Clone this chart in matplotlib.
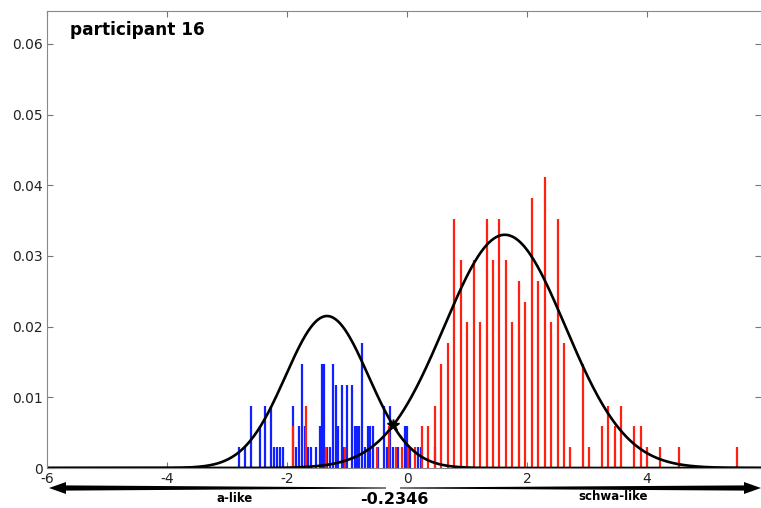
import numpy as np
import matplotlib
matplotlib.use("Agg")
import matplotlib.pyplot as plt
from matplotlib.patches import Polygon

plt.rcParams["axes.unicode_minus"] = False

# histogram counts (normalised by total number of tokens)
n_total = 340

a_x = [-2.795, -2.7, -2.6, -2.458, -2.367, -2.267, -2.217, -2.167, -2.117, -2.072,
       -1.895, -1.842, -1.797, -1.75, -1.705, -1.642, -1.595, -1.512, -1.458, -1.42, -1.38,
       -1.328, -1.283, -1.228, -1.183, -1.142, -1.088, -1.045, -0.995, -0.912, -0.867,
       -0.828, -0.792, -0.75, -0.708, -0.655, -0.613, -0.572, -0.478, -0.378, -0.333,
       -0.283, -0.238, -0.145, -0.037, 0.008, 0.05, 0.183, 0.233, 0.467]
a_count = [1, 1, 3, 2, 3, 3, 1, 1, 1, 1,
           3, 1, 2, 5, 2, 1, 1, 1, 2, 5, 5,
           1, 1, 5, 4, 2, 4, 1, 4, 4, 2,
           2, 2, 6, 1, 2, 2, 2, 1, 3, 1,
           3, 1, 1, 2, 2, 1, 1, 1, 1]

schwa_x = [-1.895, -1.688, -1.35, -1.033, -0.505, -0.295, -0.183, -0.078, 0.022, 0.133,
           0.245, 0.355, 0.467, 0.567, 0.678, 0.783, 0.895, 1.0, 1.112, 1.217,
           1.328, 1.438, 1.538, 1.645, 1.75, 1.862, 1.967, 2.078, 2.183, 2.295,
           2.4, 2.512, 2.617, 2.722, 2.928, 3.033, 3.25, 3.355, 3.462, 3.572,
           3.783, 3.895, 4.0, 4.217, 4.533, 5.505]
schwa_count = [2, 3, 1, 1, 1, 2, 1, 1, 1, 1,
               2, 2, 3, 5, 6, 12, 10, 7, 10, 7,
               12, 10, 12, 10, 7, 9, 8, 13, 9, 14,
               7, 12, 6, 1, 5, 1, 2, 3, 2, 3,
               2, 2, 1, 1, 1, 1]

# fitted normal curves (mean, sd, peak height)
a_mean, a_sd, a_peak = -1.333, 0.69, 0.0215
schwa_mean, schwa_sd, schwa_peak = 1.63, 1.01, 0.033
boundary = -0.2346

xticks = [-6, -4, -2, 0, 2, 4]
yticks = [0, 0.01, 0.02, 0.03, 0.04, 0.05, 0.06]
ytick_labels = ["0", "0.01", "0.02", "0.03", "0.04", "0.05", "0.06"]

W, H = 761, 508
fig = plt.figure(figsize=(W / 100, H / 100), dpi=100)
ax = fig.add_axes([47 / W, 40 / H, 714 / W, 457.3 / H])

ax.vlines(a_x, 0, np.array(a_count) / n_total, color="#1020ff", lw=1.6)
ax.vlines(schwa_x, 0, np.array(schwa_count) / n_total, color="#ff2010", lw=1.6)

xs = np.linspace(-6, 6, 600)
ax.plot(xs, a_peak * np.exp(-0.5 * ((xs - a_mean) / a_sd) ** 2), color="black", lw=1.9)
ax.plot(xs, schwa_peak * np.exp(-0.5 * ((xs - schwa_mean) / schwa_sd) ** 2), color="black", lw=1.9)
by = a_peak * np.exp(-0.5 * ((boundary - a_mean) / a_sd) ** 2)
ax.plot([boundary], [by], marker="*", color="black", ms=9, zorder=5)

ax.set_xlim(-6, 5.9)
ax.set_ylim(0, 0.0647)
ax.set_xticks(xticks)
ax.set_xticklabels([str(t) for t in xticks])
ax.set_yticks(yticks)
ax.set_yticklabels(ytick_labels)
ax.tick_params(direction="in", length=4, color="#777777", labelcolor="#222222",
               labelsize=10, top=True, right=True, pad=3)
for s in ["left", "top", "bottom"]:
    ax.spines[s].set_color("#888888")
ax.spines["right"].set_visible(False)

fig.text(70 / W, 1 - 30 / H, "participant 16", fontsize=12.2, fontweight="bold",
         family="DejaVu Sans", ha="left", va="center")


def fp(px, py):
    return (px / W, 1 - py / H)


def tapered_arrow(x_tip, x_base, x_end, y, head=6, thick=2.6, thin=0.5):
    pts = [fp(x_tip, y), fp(x_base, y - head), fp(x_base, y - thick),
           fp(x_end, y - thin), fp(x_end, y + thin), fp(x_base, y + thick),
           fp(x_base, y + head)]
    fig.add_artist(Polygon(pts, closed=True, transform=fig.transFigure,
                           facecolor="black", edgecolor="none"))


tapered_arrow(49, 66, 386, 488)
tapered_arrow(761, 744, 400, 488)

fig.text(235 / W, 1 - 498 / H, "a-like", fontsize=8.5, fontweight="bold",
         family="DejaVu Sans", ha="center", va="center")
fig.text(613 / W, 1 - 497 / H, "schwa-like", fontsize=8.5, fontweight="bold",
         family="DejaVu Sans", ha="center", va="center")
fig.text(394 / W, 1 - 500 / H, "-0.2346", fontsize=11.5, fontweight="bold",
         family="DejaVu Sans", ha="center", va="center")

fig.savefig("out.png", dpi=100)
